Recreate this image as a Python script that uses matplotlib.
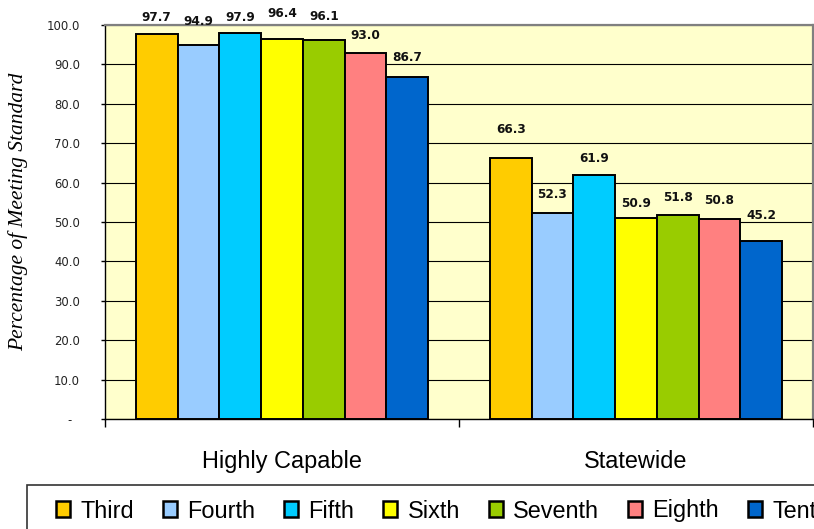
import matplotlib
matplotlib.use("Agg")
import matplotlib.pyplot as plt
import numpy as np
from matplotlib.patches import Rectangle

# data
groups = ["Highly Capable", "Statewide"]
grades = ["Third", "Fourth", "Fifth", "Sixth", "Seventh", "Eighth", "Tenth"]
highly_capable = [97.7, 94.9, 97.9, 96.4, 96.1, 93.0, 86.7]
statewide = [66.3, 52.3, 61.9, 50.9, 51.8, 50.8, 45.2]
yticks = [0, 10, 20, 30, 40, 50, 60, 70, 80, 90, 100]
ytick_labels = ["-  "] + [f"{v:.1f}" for v in yticks[1:]]

COLORS = ["#FFCC00", "#99CCFF", "#00CCFF", "#FFFF00", "#99CC00", "#FF8080", "#0066CC"]
BG = "#FFFFCC"
# label lift above each bar top (pixels), Excel staggers them
LIFT = [[17, 24, 17, 27, 25, 18, 21], [29, 19, 18, 16, 18, 19, 26]]

W, H = 814, 529
fig = plt.figure(figsize=(W / 100, H / 100), dpi=100, facecolor="white")
ax = fig.add_axes([105 / W, 1 - 419 / H, (813 - 105) / W, (419 - 25) / H])
ax.set_facecolor(BG)

series = np.array([highly_capable, statewide])
x = np.arange(len(groups))
bw = 0.118
for i, g in enumerate(grades):
    xs = x + (i - 3) * bw
    ax.bar(xs, series[:, i], width=bw, color=COLORS[i], edgecolor="black",
           linewidth=1.4, label=g, zorder=3)
    for j in range(len(groups)):
        ax.annotate(f"{series[j, i]:.1f}", (xs[j], series[j, i]),
                    xytext=(0, LIFT[j][i] - 4.4), textcoords="offset pixels",
                    ha="center", va="baseline", fontsize=8.7,
                    fontweight="bold", color="#111111",
                    family="DejaVu Sans", annotation_clip=False)

ax.set_xlim(-0.5, 1.5)
ax.set_ylim(0, 100)
ax.set_yticks(yticks)
ax.set_yticklabels(ytick_labels, fontsize=8.4, family="DejaVu Sans", color="#222222")
ax.tick_params(axis="y", direction="out", length=3, width=1, pad=15)
ax.yaxis.grid(True, color="black", linewidth=0.8, zorder=1)
ax.set_axisbelow(True)

ax.set_xticks([-0.5, 0.5, 1.5])
ax.set_xticklabels([])
ax.tick_params(axis="x", direction="out", length=6, width=1)
for j, name in enumerate(groups):
    ax.annotate(name, (x[j], 0), xytext=(0, -49), textcoords="offset pixels",
                ha="center", va="baseline", fontsize=16.9,
                family="Liberation Sans", annotation_clip=False)

for s in ["top", "right"]:
    ax.spines[s].set_color("#808080")
    ax.spines[s].set_linewidth(1.6)
for s in ["left", "bottom"]:
    ax.spines[s].set_color("black")
    ax.spines[s].set_linewidth(1.0)

fig.text(18 / W, 1 - 212 / H, "Percentage of Meeting Standard", rotation=90,
         ha="center", va="center", fontsize=15.5, style="italic",
         family="Liberation Serif")

# legend box runs off the right and bottom edges in the reference
fig.patches.append(Rectangle((27 / W, -0.2), 1.0, 0.2 + 1 - 485 / H,
                             transform=fig.transFigure, fill=False,
                             edgecolor="#333333", linewidth=1.2))
handles, labels = ax.get_legend_handles_labels()
leg = fig.legend(handles, labels, loc="center left", ncol=7,
                 bbox_to_anchor=(56 / W, 1 - 511 / H), frameon=False,
                 borderpad=0, borderaxespad=0, handlelength=0.6,
                 handleheight=0.66, handletextpad=0.43, columnspacing=1.24,
                 prop={"family": "Liberation Sans", "size": 16.9})
for p in leg.get_patches():
    p.set_linewidth(1.8)

fig.savefig("out.png", dpi=100, facecolor="white")
